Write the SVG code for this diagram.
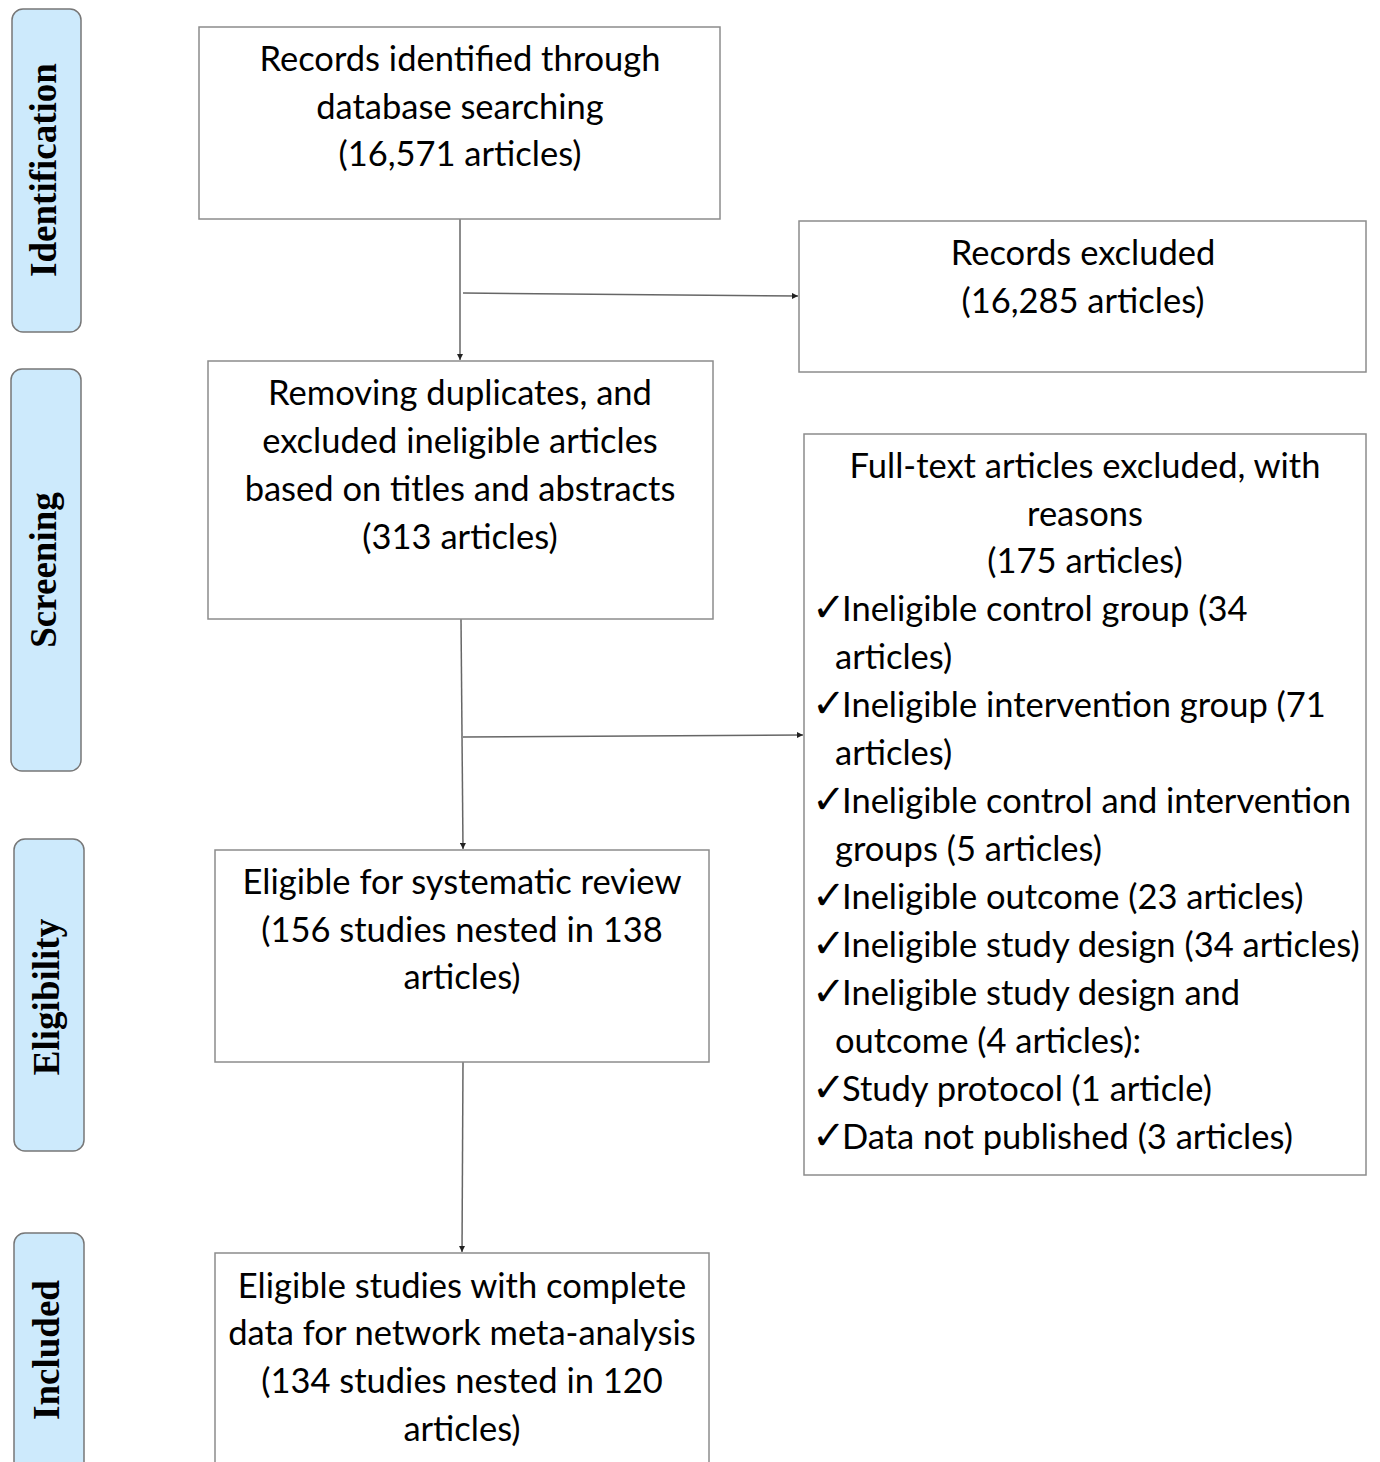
<svg xmlns="http://www.w3.org/2000/svg" width="1380" height="1462" viewBox="0 0 1380 1462">
<defs>
<style>
.box{fill:#fff;stroke:#8c8c8c;stroke-width:1.5}
.stage{fill:#cdeafc;stroke:#777;stroke-width:1.5}
.st{font-family:"Liberation Serif","Times New Roman",serif;font-weight:bold;font-size:37px;fill:#000;text-anchor:middle}
.t{font-family:Lato,"Open Sans",sans-serif;font-size:34.5px;fill:#000}
.c{text-anchor:middle}
.ck{font-family:"DejaVu Sans",sans-serif;font-size:40px}
.ln{stroke:#666;stroke-width:1.5;fill:none;marker-end:url(#ah)}
</style>
<marker id="ah" viewBox="0 0 10 10" refX="10" refY="5" markerWidth="6" markerHeight="6" markerUnits="userSpaceOnUse" orient="auto">
<path d="M0,0 L10,5 L0,10 z" fill="#222"/>
</marker>
</defs>
<rect width="1380" height="1462" fill="#fff"/>

<g id="stage-identification">
<rect class="stage" x="12" y="9" width="69" height="323" rx="11"/>
<text class="st" transform="translate(56,170) rotate(-90)">Identification</text>
</g>
<g id="stage-screening">
<rect class="stage" x="11" y="369" width="70" height="402" rx="11"/>
<text class="st" transform="translate(56,570) rotate(-90)">Screening</text>
</g>
<g id="stage-eligibility">
<rect class="stage" x="14" y="839" width="70" height="312" rx="11"/>
<text class="st" transform="translate(59,997) rotate(-90)">Eligibility</text>
</g>
<g id="stage-included">
<rect class="stage" x="14" y="1233" width="70" height="250" rx="11"/>
<text class="st" transform="translate(59,1350) rotate(-90)">Included</text>
</g>

<g id="connectors">
<line class="ln" x1="460" y1="219" x2="460" y2="360"/>
<line class="ln" x1="463" y1="293" x2="798" y2="296"/>
<line class="ln" x1="461" y1="619" x2="463" y2="849"/>
<line class="ln" x1="463" y1="737" x2="803" y2="735"/>
<line class="ln" x1="463" y1="1062" x2="462" y2="1252"/>
</g>

<g id="records-identified">
<rect class="box" x="199" y="27" width="521" height="192"/>
<text class="t c" x="460" y="71">Records identified through</text>
<text class="t c" x="460" y="119">database searching</text>
<text class="t c" x="460" y="166">(16,571 articles)</text>
</g>

<g id="records-excluded">
<rect class="box" x="799" y="221" width="567" height="151"/>
<text class="t c" x="1083" y="265">Records excluded</text>
<text class="t c" x="1083" y="313">(16,285 articles)</text>
</g>

<g id="removing-duplicates">
<rect class="box" x="208" y="361" width="505" height="258"/>
<text class="t c" x="460" y="405">Removing duplicates, and</text>
<text class="t c" x="460" y="453">excluded ineligible articles</text>
<text class="t c" x="460" y="501">based on titles and abstracts</text>
<text class="t c" x="460" y="549">(313 articles)</text>
</g>

<g id="fulltext-excluded">
<rect class="box" x="804" y="434" width="562" height="741"/>
<text class="t c" x="1085" y="478">Full-text articles excluded, with</text>
<text class="t c" x="1085" y="526">reasons</text>
<text class="t c" x="1085" y="573">(175 articles)</text>
<text class="t" x="812" y="621"><tspan class="ck">✓</tspan><tspan x="842">Ineligible control group (34</tspan></text>
<text class="t" x="835" y="669">articles)</text>
<text class="t" x="812" y="717"><tspan class="ck">✓</tspan><tspan x="842">Ineligible intervention group (71</tspan></text>
<text class="t" x="835" y="765">articles)</text>
<text class="t" x="812" y="813"><tspan class="ck">✓</tspan><tspan x="842">Ineligible control and intervention</tspan></text>
<text class="t" x="835" y="861">groups (5 articles)</text>
<text class="t" x="812" y="909"><tspan class="ck">✓</tspan><tspan x="842">Ineligible outcome (23 articles)</tspan></text>
<text class="t" x="812" y="957"><tspan class="ck">✓</tspan><tspan x="842">Ineligible study design (34 articles)</tspan></text>
<text class="t" x="812" y="1005"><tspan class="ck">✓</tspan><tspan x="842">Ineligible study design and</tspan></text>
<text class="t" x="835" y="1053">outcome (4 articles):</text>
<text class="t" x="812" y="1101"><tspan class="ck">✓</tspan><tspan x="842">Study protocol (1 article)</tspan></text>
<text class="t" x="812" y="1149"><tspan class="ck">✓</tspan><tspan x="842">Data not published (3 articles)</tspan></text>
</g>

<g id="eligible-review">
<rect class="box" x="215" y="850" width="494" height="212"/>
<text class="t c" x="462" y="894">Eligible for systematic review</text>
<text class="t c" x="462" y="942">(156 studies nested in 138</text>
<text class="t c" x="462" y="989">articles)</text>
</g>

<g id="eligible-nma">
<rect class="box" x="215" y="1253" width="494" height="230"/>
<text class="t c" x="462" y="1298">Eligible studies with complete</text>
<text class="t c" x="462" y="1345">data for network meta-analysis</text>
<text class="t c" x="462" y="1393">(134 studies nested in 120</text>
<text class="t c" x="462" y="1441">articles)</text>
</g>
</svg>
